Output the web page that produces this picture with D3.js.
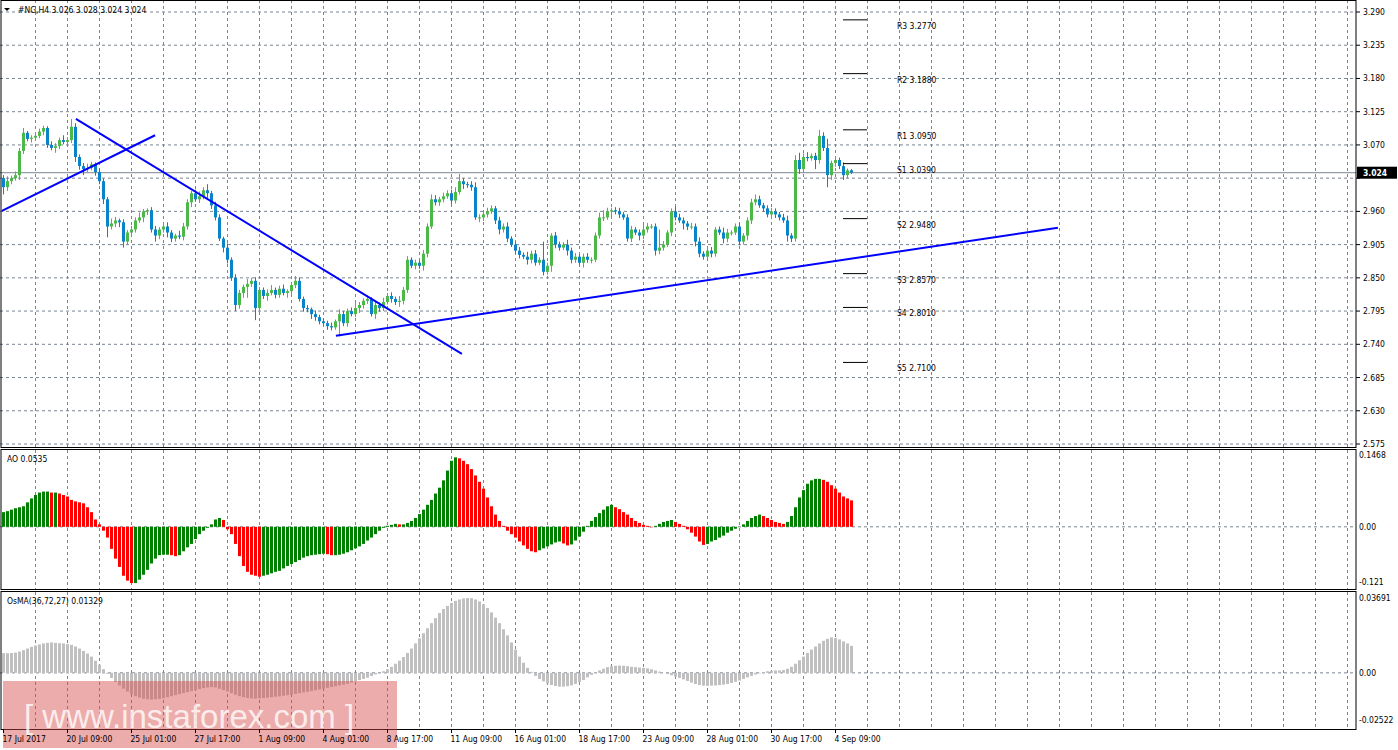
<!DOCTYPE html>
<html>
<head>
<meta charset="utf-8">
<script src="https://cdn.jsdelivr.net/npm/d3@7"></script>
<style>
  body { margin: 0; background: #fff; }
  text { font-family: "DejaVu Sans Condensed", "DejaVu Sans", sans-serif; font-size: 8.5px; fill: #000; }
</style>
</head>
<body>
<svg id="chart" width="1398" height="750"></svg>
<script>
// closes of the H4 bars, 17 Jul 2017 .. 4 Sep 09:00
var closes = [
  3.000,3.010,3.015,3.020,3.060,3.090,3.080,3.082,3.085,3.092,3.098,3.070,3.065,3.068,3.078,3.075,
  3.078,3.100,3.050,3.035,3.030,3.032,3.038,3.025,3.010,2.980,2.935,2.940,2.945,2.942,2.910,2.925,
  2.930,2.945,2.950,2.960,2.962,2.930,2.920,2.930,2.935,2.925,2.915,2.920,2.918,2.935,2.975,2.990,
  2.980,2.985,2.995,2.990,2.970,2.950,2.915,2.900,2.880,2.850,2.805,2.825,2.835,2.840,2.845,2.800,
  2.830,2.820,2.825,2.830,2.822,2.832,2.825,2.828,2.838,2.845,2.815,2.800,2.798,2.790,2.785,2.778,
  2.775,2.770,2.768,2.778,2.790,2.775,2.795,2.790,2.800,2.805,2.812,2.815,2.790,2.805,2.800,2.810,
  2.820,2.815,2.810,2.812,2.830,2.880,2.870,2.875,2.870,2.890,2.935,2.980,2.975,2.980,2.985,2.990,
  2.978,2.992,3.010,3.005,3.004,3.000,2.950,2.950,2.955,2.960,2.965,2.945,2.930,2.935,2.915,2.905,
  2.895,2.888,2.885,2.880,2.890,2.875,2.880,2.860,2.870,2.920,2.905,2.900,2.905,2.895,2.880,2.885,
  2.875,2.885,2.880,2.880,2.920,2.950,2.950,2.960,2.962,2.960,2.955,2.950,2.915,2.930,2.925,2.920,
  2.930,2.935,2.935,2.895,2.900,2.905,2.925,2.960,2.950,2.945,2.940,2.935,2.935,2.910,2.890,2.885,
  2.895,2.890,2.930,2.925,2.915,2.925,2.925,2.935,2.910,2.920,2.945,2.975,2.980,2.970,2.965,2.955,
  2.960,2.955,2.950,2.945,2.920,2.915,3.045,3.030,3.050,3.048,3.052,3.045,3.085,3.065,3.020,3.040,
  3.045,3.035,3.020,3.028,3.024
];
var firstOpen = 3.015;
// wick lengths above / below the body, in 0.001
var wickUp = [
  5,8,4,6,5,8,3,4,6,5,4,3,6,5,4,8, 5,13,6,4,5,7,4,3,6,5,4,8,6,3,5,4,
  6,5,8,4,3,5,6,4,5,7,4,3,8,6,5,4, 6,8,5,10,4,6,5,3,7,4,6,5,4,8,5,6,
  5,4,6,8,4,5,7,3,5,8,6,4,5,3,6,4, 5,4,6,3,8,5,4,6,10,5,4,6,3,5,4,7,
  5,6,4,8,5,6,4,5,3,6,5,8,7,4,6,5, 6,8,12,5,4,6,8,5,4,6,5,4,6,5,7,4,
  5,6,4,8,5,6,4,30,5,4,6,5,4,8,5,6, 4,5,6,4,5,8,12,6,4,5,6,4,5,6,4,5,
  8,6,4,5,30,6,4,5,8,6,5,4,6,5,7,4, 5,6,4,5,8,6,4,5,6,4,5,6,8,6,4,5,
  6,5,4,6,8,4,8,12,6,8,4,5,10,6,15,4, 5,4,6,3,2
];
var wickDn = [
  12,6,5,4,8,5,4,6,5,4,6,5,4,8,5,4, 6,5,8,6,10,5,4,6,5,8,18,5,6,8,10,5,
  6,5,4,8,6,5,10,6,5,8,6,5,4,6,5,8, 4,6,5,8,6,5,4,8,6,5,10,6,8,18,5,20,
  6,5,8,4,6,5,4,8,6,5,4,6,5,8,6,5, 4,6,5,4,25,5,6,4,5,8,6,5,4,8,6,5,
  4,6,5,8,6,5,4,6,5,8,6,4,5,6,5,4, 6,5,4,8,5,6,4,8,6,5,4,6,8,5,6,4,
  5,6,4,8,6,5,4,6,5,10,6,5,4,8,6,5, 4,8,5,6,4,5,6,4,8,5,6,4,5,6,4,8,
  6,5,4,8,6,5,4,6,5,4,10,6,5,8,6,5, 4,6,5,4,8,6,5,4,6,5,8,6,5,4,6,5,
  8,6,5,4,10,6,5,8,6,5,4,15,6,5,20,8, 6,5,8,5,2
];
// Awesome Oscillator, in 0.001
var ao = [
  30,32,35,38,40,42,50,58,65,70,72,72,70,70,68,65,
  62,55,52,50,48,40,30,15,5,-8,-22,-45,-65,-82,-100,-110,
  -115,-115,-108,-98,-88,-75,-65,-58,-57,-57,-58,-60,-58,-50,-42,-35,
  -25,-15,-8,-2,5,15,18,14,-5,-15,-35,-60,-80,-92,-98,-100,
  -102,-100,-98,-95,-92,-90,-85,-80,-76,-72,-68,-63,-60,-58,-57,-56,
  -55,-56,-58,-58,-57,-55,-52,-48,-44,-40,-35,-28,-22,-15,-8,-2,
  2,4,6,5,5,8,12,18,26,35,45,55,68,80,95,115,
  135,142,140,135,128,118,105,92,78,60,42,25,12,2,-8,-15,
  -22,-30,-38,-45,-50,-52,-48,-44,-40,-36,-32,-30,-34,-38,-36,-28,
  -20,-10,2,12,20,28,35,42,45,40,36,30,25,18,12,8,
  4,2,-1,2,6,10,12,14,10,6,2,-5,-12,-20,-30,-37,
  -35,-30,-27,-22,-18,-12,-8,-4,0,5,12,18,22,25,22,18,
  14,10,8,6,10,22,40,60,75,88,95,98,98,96,92,85,
  78,70,62,58,54
];
// OsMA(36,72,27), in 0.0001
var osma = [
  97,97,98,100,105,112,120,128,135,140,145,148,150,148,146,145,
  142,138,130,120,108,95,80,60,40,18,-5,-25,-45,-62,-78,-92,
  -105,-115,-122,-128,-130,-132,-130,-128,-125,-120,-115,-110,-105,-100,-95,-90,
  -85,-80,-75,-72,-70,-72,-78,-85,-92,-100,-108,-115,-120,-124,-126,-127,
  -126,-124,-122,-120,-118,-116,-113,-110,-107,-104,-100,-97,-94,-90,-86,-82,
  -78,-74,-70,-66,-62,-58,-54,-48,-42,-36,-30,-24,-16,-8,0,8,
  18,30,45,60,78,98,120,145,170,195,220,245,270,295,315,330,
  345,355,362,367,369,368,362,352,338,320,298,272,245,215,185,150,
  115,80,50,25,5,-15,-30,-42,-52,-60,-65,-68,-68,-66,-62,-55,
  -45,-35,-22,-10,2,12,20,28,32,35,36,35,33,30,28,26,
  24,22,18,12,6,0,-6,-12,-18,-25,-32,-40,-48,-55,-60,-63,
  -64,-63,-62,-60,-58,-55,-50,-44,-38,-30,-22,-15,-8,-2,3,8,
  10,12,12,14,20,30,45,62,80,98,115,130,145,158,168,175,
  172,165,155,145,133
];
var priceTicks = [3.290,3.235,3.180,3.125,3.070,3.015,2.960,2.905,2.850,2.795,2.740,2.685,2.630,2.575];
var dateLabels = ["17 Jul 2017","20 Jul 09:00","25 Jul 01:00","27 Jul 17:00","1 Aug 09:00","4 Aug 01:00",
  "8 Aug 17:00","11 Aug 09:00","16 Aug 01:00","18 Aug 17:00","23 Aug 09:00","28 Aug 01:00","30 Aug 17:00","4 Sep 09:00"];
var pivotNames = ["R3","R2","R1","S1","S2","S3","S4","S5"];
var pivotValues = [3.2770,3.1880,3.0950,3.0390,2.9480,2.8570,2.8010,2.7100];
// trend lines as [bar index, price] pairs
var trendLines = [
  [[-0.4,2.961],[37.9,3.086]],
  [[18.1,3.113],[114.6,2.724]],
  [[83.1,2.754],[263.6,2.933]]
];
var lastPrice = 3.024;

var svg = d3.select("#chart");
var W = 1356;
var x = d3.scaleLinear().domain([0, 1]).range([3.5, 7.5]);
var y = d3.scaleLinear().domain([2.575, 3.290]).range([444, 12]);
var yAO = d3.scaleLinear().domain([-0.121, 0.1468]).range([586, 455]);
var yOs = d3.scaleLinear().domain([-0.02522, 0.03691]).range([724, 598]);

svg.append("rect").attr("width", 1398).attr("height", 750).attr("fill", "#fff");

var clip = svg.append("defs");
[["cMain",0,447],["cAO",450,139],["cOs",592,137]].forEach(function (c) {
  clip.append("clipPath").attr("id", c[0]).append("rect")
    .attr("x", 1).attr("y", c[1]).attr("width", W - 1).attr("height", c[2]);
});

var grid = "#7a8591";
// vertical grid every 8 bars
var vg = d3.range(8, 340, 8);
[[0,447],[450,589],[592,729]].forEach(function (p) {
  svg.append("g").selectAll("line").data(vg).join("line")
    .attr("x1", function (d) { return x(d); }).attr("x2", function (d) { return x(d); })
    .attr("y1", p[0]).attr("y2", p[1])
    .attr("stroke", grid).attr("stroke-dasharray", "3,3");
});
svg.append("g").selectAll("line").data(priceTicks).join("line")
  .attr("x1", 0).attr("x2", W).attr("y1", function (d) { return y(d); }).attr("y2", function (d) { return y(d); })
  .attr("stroke", grid).attr("stroke-dasharray", "3,3");
svg.append("line").attr("x1", 0).attr("x2", W).attr("y1", yAO(0)).attr("y2", yAO(0))
  .attr("stroke", grid).attr("stroke-dasharray", "3,3");
svg.append("line").attr("x1", 0).attr("x2", W).attr("y1", yOs(0)).attr("y2", yOs(0))
  .attr("stroke", grid).attr("stroke-dasharray", "3,3");

// current price line
svg.append("line").attr("x1", 0).attr("x2", W).attr("y1", y(lastPrice)).attr("y2", y(lastPrice)).attr("stroke", "#7a8591");

// candles
var bars = closes.map(function (c, i) {
  var o = i === 0 ? firstOpen : closes[i - 1];
  return { i: i, o: o, c: c, h: Math.max(o, c) + wickUp[i] / 1000, l: Math.min(o, c) - wickDn[i] / 1000 };
});
var cg = svg.append("g").attr("clip-path", "url(#cMain)");
cg.selectAll("line").data(bars).join("line")
  .attr("x1", function (d) { return x(d.i); }).attr("x2", function (d) { return x(d.i); })
  .attr("y1", function (d) { return y(d.h); }).attr("y2", function (d) { return y(d.l); })
  .attr("stroke", function (d) { return d.c >= d.o ? "#4cb848" : "#0a84c8"; });
cg.selectAll("rect").data(bars).join("rect")
  .attr("x", function (d) { return x(d.i) - 1.5; }).attr("width", 3)
  .attr("y", function (d) { return y(Math.max(d.o, d.c)); })
  .attr("height", function (d) { return Math.max(1, Math.abs(y(d.o) - y(d.c))); })
  .attr("fill", function (d) { return d.c >= d.o ? "#4cb848" : "#0a84c8"; });

// trend lines
cg.selectAll("path.tl").data(trendLines).join("path").attr("class", "tl")
  .attr("d", d3.line().x(function (d) { return x(d[0]); }).y(function (d) { return y(d[1]); }))
  .attr("stroke", "#0000ff").attr("stroke-width", 2).attr("fill", "none");

// pivot levels
svg.append("g").selectAll("line").data(pivotValues).join("line")
  .attr("x1", 843).attr("x2", 867).attr("y1", function (d) { return y(d); }).attr("y2", function (d) { return y(d); })
  .attr("stroke", "#000");
svg.append("g").selectAll("text").data(pivotValues).join("text")
  .attr("x", 897).attr("y", function (d) { return y(d) + 9; })
  .text(function (d, i) { return pivotNames[i] + " " + d.toFixed(4); });

// AO histogram
svg.append("g").attr("clip-path", "url(#cAO)").selectAll("rect").data(ao).join("rect")
  .attr("x", function (d, i) { return x(i) - 1.5; }).attr("width", 3)
  .attr("y", function (d) { return yAO(Math.max(0, d / 1000)); })
  .attr("height", function (d) { return Math.abs(yAO(d / 1000) - yAO(0)); })
  .attr("fill", function (d, i) { return i === 0 || d >= ao[i - 1] ? "#008000" : "#ff0000"; });

// OsMA histogram
svg.append("g").attr("clip-path", "url(#cOs)").selectAll("rect").data(osma).join("rect")
  .attr("x", function (d, i) { return x(i) - 1.5; }).attr("width", 3)
  .attr("y", function (d) { return yOs(Math.max(0, d / 10000)); })
  .attr("height", function (d) { return Math.abs(yOs(d / 10000) - yOs(0)); })
  .attr("fill", "#c0c0c0");

// panel frames
[[0,447],[449,589],[591,729]].forEach(function (p) {
  svg.append("rect").attr("x", 1).attr("y", p[0] + 0.5).attr("width", W - 1).attr("height", p[1] - p[0])
    .attr("fill", "none").attr("stroke", "#000");
});

// right price axis
var ra = svg.append("g");
ra.selectAll("line").data(priceTicks).join("line")
  .attr("x1", W).attr("x2", W + 4).attr("y1", function (d) { return y(d); }).attr("y2", function (d) { return y(d); })
  .attr("stroke", "#000");
ra.selectAll("text").data(priceTicks.filter(function (d) { return Math.abs(y(d) - y(lastPrice)) > 8; })).join("text")
  .attr("x", W + 7).attr("y", function (d) { return y(d) + 3; }).text(function (d) { return d.toFixed(3); });
svg.append("rect").attr("x", W + 1).attr("y", y(lastPrice) - 6).attr("width", 40).attr("height", 12).attr("fill", "#000");
svg.append("text").attr("x", W + 7).attr("y", y(lastPrice) + 3.5).style("fill", "#fff").style("font-weight", "bold").text(lastPrice.toFixed(3));

[[0.1468, "0.1468", yAO, 3], [0, "0.00", yAO, 3], [-0.121, "-0.121", yAO, -1],
 [0.03691, "0.03691", yOs, 3], [0, "0.00", yOs, 3], [-0.02522, "-0.02522", yOs, -1]].forEach(function (t) {
  svg.append("text").attr("x", W + 3).attr("y", t[2](t[0]) + t[3]).text(t[1]);
});

// titles
svg.append("path").attr("d", "M4,8 L10,8 L7,11 Z").attr("fill", "#000");
svg.append("text").attr("x", 18).attr("y", 13).text("#NG,H4  3.026 3.028 3.024 3.024");
svg.append("text").attr("x", 7).attr("y", 462).text("AO 0.0535");
svg.append("text").attr("x", 7).attr("y", 604).text("OsMA(36,72,27) 0.01329");

// watermark
svg.append("rect").attr("x", 3).attr("y", 681).attr("width", 394).attr("height", 67).attr("fill", "rgba(215,70,70,0.45)");
svg.append("text").attr("x", 24).attr("y", 728).style("font-size", "33px").style("fill", "rgba(255,255,255,0.8)")
  .style("font-family", "'Liberation Sans', Arial, sans-serif").text("[ www.instaforex.com ]");

// date axis
var dg = svg.append("g");
dg.selectAll("line").data(dateLabels).join("line")
  .attr("x1", function (d, i) { return x(i * 16); }).attr("x2", function (d, i) { return x(i * 16); })
  .attr("y1", 729).attr("y2", 733).attr("stroke", "#000");
dg.selectAll("text").data(dateLabels).join("text")
  .attr("x", function (d, i) { return x(i * 16) - 1; }).attr("y", 742).text(function (d) { return d; });
</script>
</body>
</html>
